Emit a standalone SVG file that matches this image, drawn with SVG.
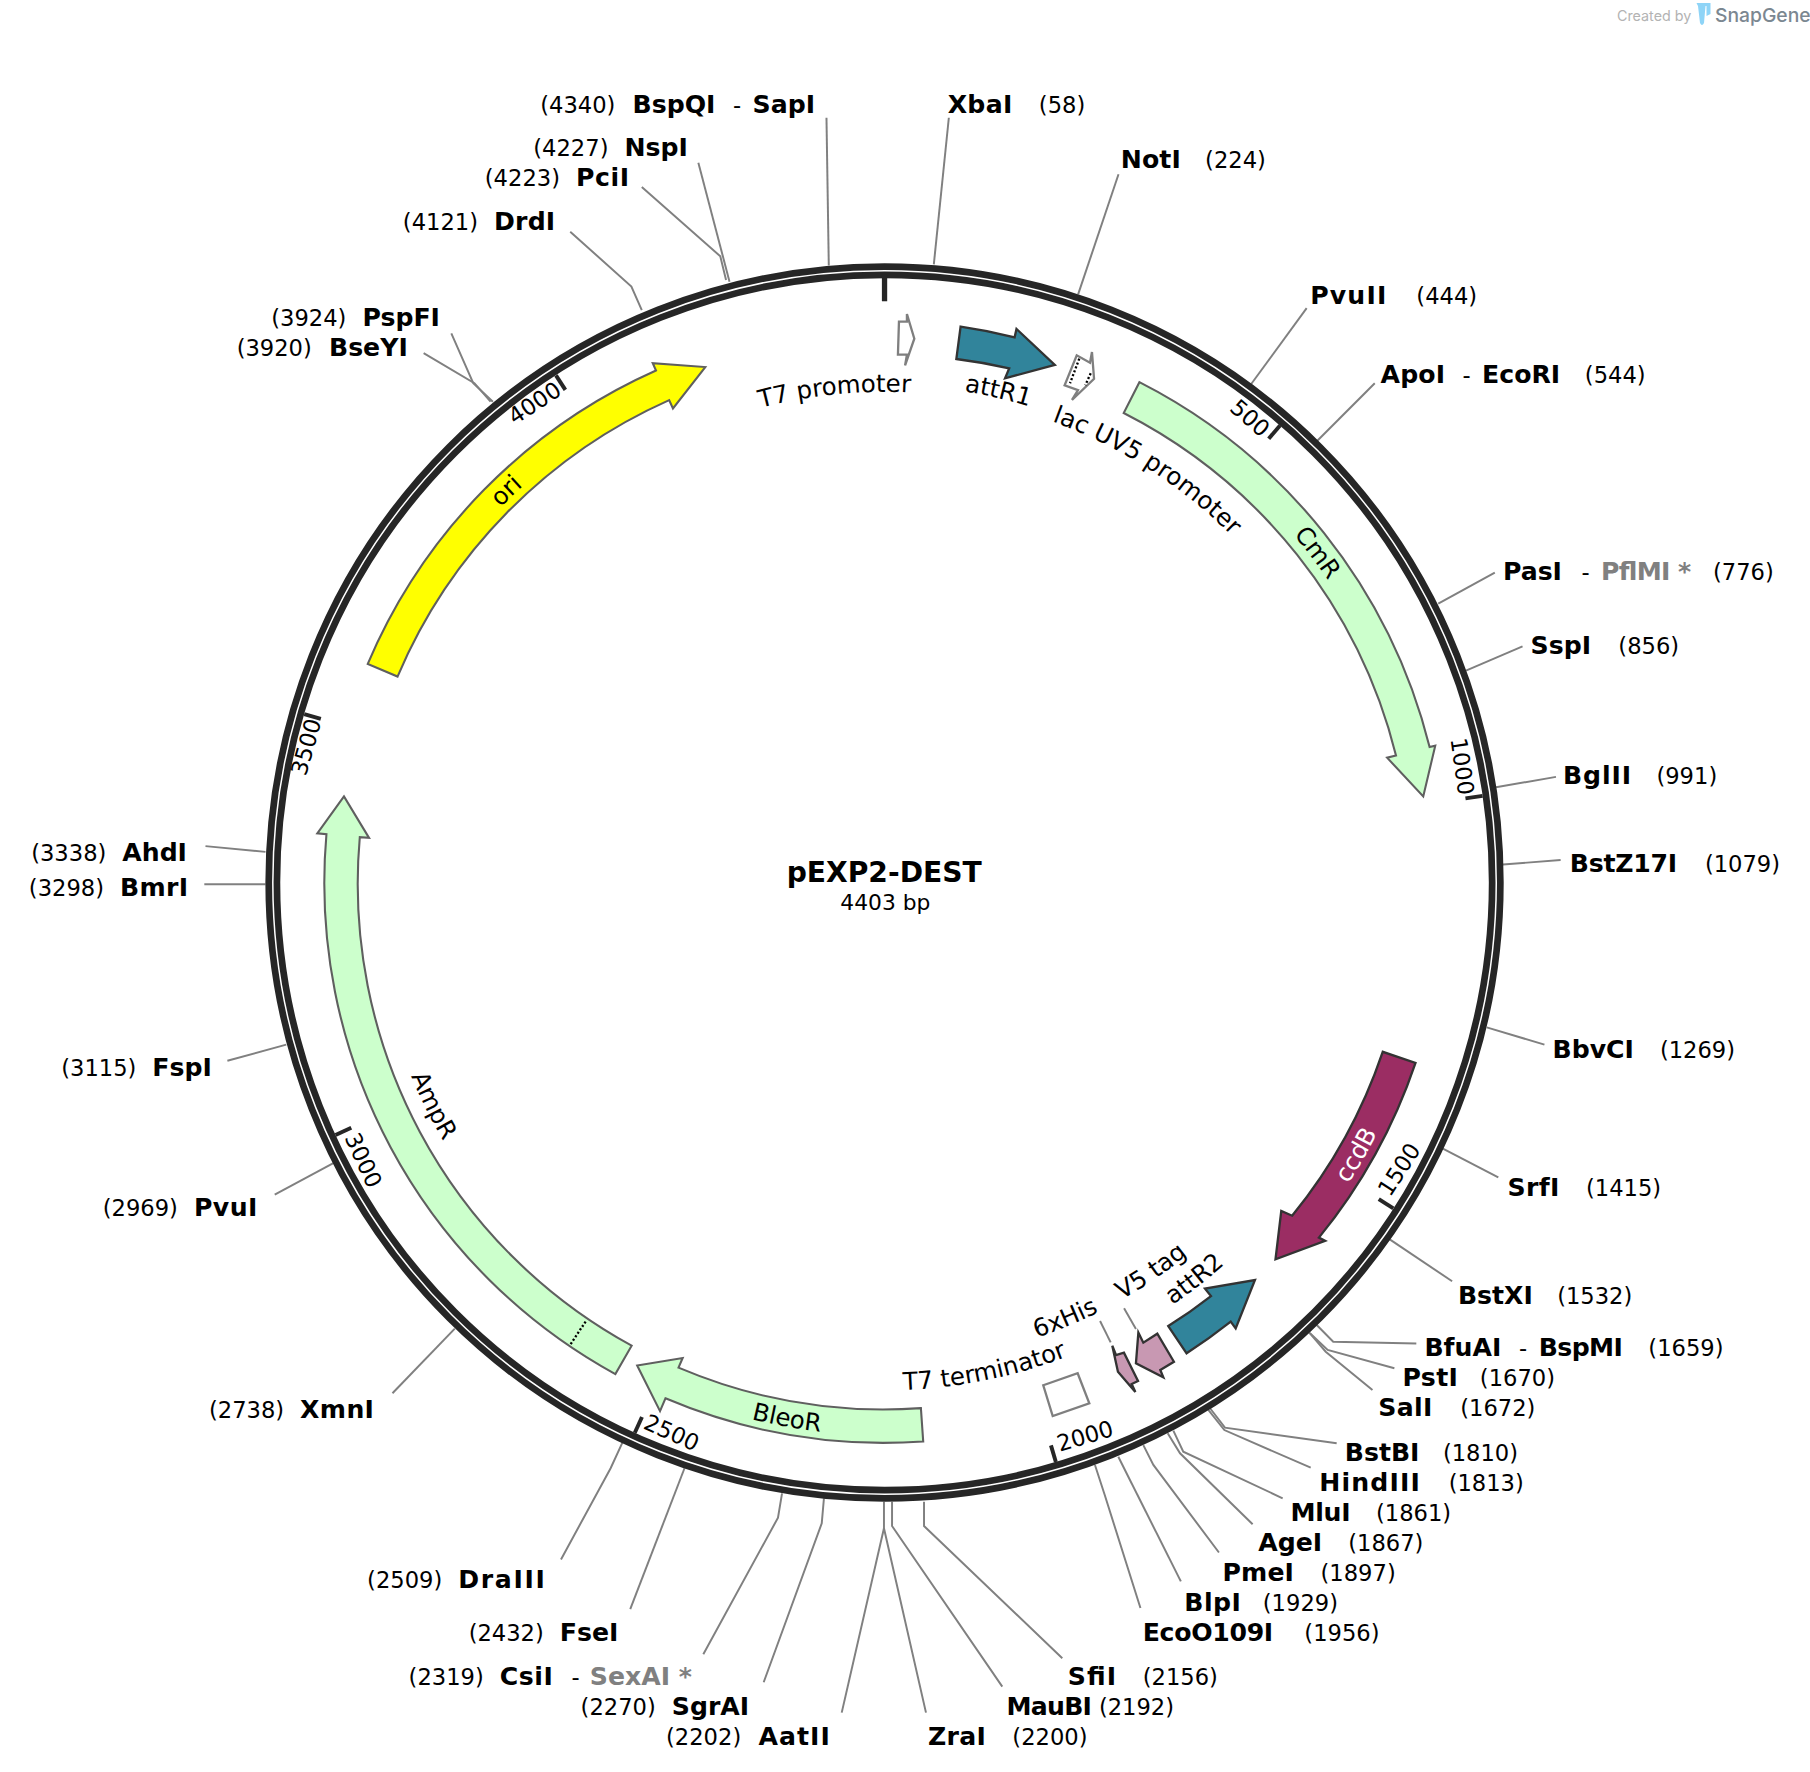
<svg xmlns="http://www.w3.org/2000/svg" width="1810" height="1772" viewBox="0 0 1810 1772">
<style>
text{font-family:"DejaVu Sans","Liberation Sans",sans-serif;fill:#000}
.b{font-weight:700;font-size:21.8px}
.n{font-size:19.6px}
.g{fill:#808080}
.f{font-size:21.2px}
.w{fill:#fff}
.ring{fill:none;stroke:#262626;stroke-width:5.8}
.tick{stroke:#262626;stroke-width:3.4}
.lead{fill:none;stroke:#808080;stroke-width:1.7}
.ft{stroke:#5f5f5f;stroke-width:1.8;stroke-linejoin:miter}
.dark{stroke:#333;stroke-width:2}
.open{fill:#fff;stroke:#7f7f7f;stroke-width:2}
.dot{fill:none;stroke:#000;stroke-width:2;stroke-dasharray:1.8 1.8}
</style>
<defs>
<path id="t425" d="M341.3,764.5A425,425 0 0 1 1191.3,764.5"/>
<path id="t431" d="M335.3,764.5A431,431 0 0 1 1197.3,764.5"/>
<path id="t465" d="M301.3,764.5A465,465 0 0 1 1231.3,764.5"/>
<path id="b416" d="M350.3,764.5A416,416 0 0 0 1182.3,764.5"/>
<path id="b440" d="M326.3,764.5A440,440 0 0 0 1206.3,764.5"/>
<path id="b443" d="M323.3,764.5A443,443 0 0 0 1209.3,764.5"/>
<path id="b479" d="M287.3,764.5A479,479 0 0 0 1245.3,764.5"/>
</defs>
<g id="logo">
<text x="1617" y="20.500" style="font-family:Inter,Roboto,sans-serif;font-size:14.300px;fill:#b3b3b3">Created by</text>
<path d="M1696.500,3H1710.500V14L1706.500,16V6H1705.500L1704,23Q1702,27 1700,23L1698,6Z" fill="#8ed4f7"/>
<text x="1715" y="22" style="font-family:Inter,Roboto,sans-serif;font-size:19.300px;font-weight:500;fill:#7b8791">SnapGene</text>
</g>
<g transform="scale(1.1543)">
<g id="connectors">
<path class="lead" d="M716,102L718,230"/>
<path class="lead" d="M822,102L809,229"/>
<path class="lead" d="M969,151L934,255"/>
<path class="lead" d="M1132,267L1083,334"/>
<path class="lead" d="M1191,332L1141,382"/>
<path class="lead" d="M1295,496L1246,523"/>
<path class="lead" d="M1319,560L1270,581"/>
<path class="lead" d="M1348,673L1296,682"/>
<path class="lead" d="M1352,745L1302,749"/>
<path class="lead" d="M1338,905L1288,890"/>
<path class="lead" d="M1298,1020L1250,995"/>
<path class="lead" d="M1258,1110L1203,1073"/>
<path class="lead" d="M1227,1164L1155,1162.400L1140.700,1147.900"/>
<path class="lead" d="M1208,1185.400L1150.200,1169.500L1134.900,1155"/>
<path class="lead" d="M1189,1204.200L1148.500,1171L1134.300,1154.500"/>
<path class="lead" d="M1158,1250.400L1061.200,1236.800L1048.300,1220"/>
<path class="lead" d="M1135.500,1271.500L1060.700,1238.900L1046.800,1221.500"/>
<path class="lead" d="M1111.200,1298L1025.100,1257.600L1016.500,1239.400"/>
<path class="lead" d="M1085.200,1320.500L1022.300,1259L1011.600,1241.700"/>
<path class="lead" d="M1056,1345L999.200,1269.100L990.500,1251.900"/>
<path class="lead" d="M1023,1370L968.800,1262"/>
<path class="lead" d="M988,1393L957,1295L948.600,1269.200"/>
<path class="lead" d="M920.300,1436.600L800.500,1322V1301"/>
<path class="lead" d="M868.300,1461.200L772.800,1322V1301"/>
<path class="lead" d="M802.200,1483.700L765.800,1324V1301"/>
<path class="lead" d="M729.200,1483.700L765.800,1324"/>
<path class="lead" d="M661.600,1457.400L711.900,1319.700L713.800,1298"/>
<path class="lead" d="M609.300,1433.200L674,1314.800L677.500,1293.700"/>
<path class="lead" d="M546,1394L593,1272"/>
<path class="lead" d="M486,1351L529,1272L540,1248"/>
<path class="lead" d="M340,1207L394,1151"/>
<path class="lead" d="M238,1035L290,1007"/>
<path class="lead" d="M197,919L248,905"/>
<path class="lead" d="M177,766L230,766"/>
<path class="lead" d="M178,733L230,738"/>
<path class="lead" d="M367,306L411,332L425,348"/>
<path class="lead" d="M391,288.800L410,332L427,348"/>
<path class="lead" d="M494,200.700L547,248.300L556,268.600"/>
<path class="lead" d="M556,162L624,222L629,242.600"/>
<path class="lead" d="M605,141L632,244"/>
<path class="lead" d="M953,1144.400L962.200,1162.900"/>
<path class="lead" d="M973.800,1133.400L984.100,1151.300"/>
</g>
<g id="backbone">
<circle class="ring" cx="766.300" cy="764.500" r="533.500"/>
<circle class="ring" cx="766.300" cy="764.500" r="526.400"/>
<line x1="766.300" y1="238" x2="766.300" y2="261" stroke="#262626" stroke-width="4.600"/>
<g id="ticks">
<line class="tick" x1="766.300" y1="241" x2="766.300" y2="256" transform="rotate(40.88 766.300 764.500)"/>
<line class="tick" x1="766.300" y1="241" x2="766.300" y2="256" transform="rotate(81.76 766.300 764.500)"/>
<line class="tick" x1="766.300" y1="241" x2="766.300" y2="256" transform="rotate(122.65 766.300 764.500)"/>
<line class="tick" x1="766.300" y1="241" x2="766.300" y2="256" transform="rotate(163.53 766.300 764.500)"/>
<line class="tick" x1="766.300" y1="241" x2="766.300" y2="256" transform="rotate(204.41 766.300 764.500)"/>
<line class="tick" x1="766.300" y1="241" x2="766.300" y2="256" transform="rotate(245.3 766.300 764.500)"/>
<line class="tick" x1="766.300" y1="241" x2="766.300" y2="256" transform="rotate(286.18 766.300 764.500)"/>
<line class="tick" x1="766.300" y1="241" x2="766.300" y2="256" transform="rotate(327.06 766.300 764.500)"/>
</g>
<g id="tick-labels" text-anchor="middle">
<text class="n" x="1083" y="369" transform="rotate(41 1083 362)">500</text>
<text class="n" x="1267" y="671" transform="rotate(82 1267 664)">1000</text>
<text class="n" x="1212" y="1020" transform="rotate(-57 1212 1013)">1500</text>
<text class="n" x="940" y="1251" transform="rotate(-16.500 940 1244)">2000</text>
<text class="n" x="582" y="1248" transform="rotate(24.400 582 1241)">2500</text>
<text class="n" x="315" y="1012" transform="rotate(65 315 1005)">3000</text>
<text class="n" x="265" y="654" transform="rotate(-74 265 647)">3500</text>
<text class="n" x="463" y="356" transform="rotate(-33 463 349)">4000</text>
</g>
</g>
<g id="CmR">
<path class="ft" fill="#ccffcc" d="M987.100,331.100A487,487 0 0 1 1238.500,647.200L1243.400,646L1233,690L1201.700,656.400L1209.400,654.500A457,457 0 0 0 973.500,357.800Z"/>
<text class="f" text-anchor="middle" transform="rotate(52.7 766.300 764.500)"><textPath href="#t465" startOffset="50%">CmR</textPath></text>
</g>
<g id="ori">
<path class="ft" fill="#ffff00" d="M318.600,575.100A486,486 0 0 1 568.300,321L565.500,314.600L611,318L583,353.900L579.700,346.600A458,458 0 0 0 344.400,586.100Z"/>
<text class="f" text-anchor="middle" transform="rotate(-44 766.300 764.500)"><textPath href="#t465" startOffset="50%">ori</textPath></text>
</g>
<g id="AmpR">
<path class="ft" fill="#ccffcc" d="M533.100,1190.400A485,485 0 0 1 282.800,722.700L274.900,722L298,690L319.700,725.900L311.700,725.200A456,456 0 0 0 547.200,1165.800Z"/>
<path class="dot" d="M494.400,1164.400L508.200,1143.600"/>
<text class="f" text-anchor="middle" transform="rotate(63.700 766.300 764.500)"><textPath href="#b443" startOffset="50%">AmpR</textPath></text>
</g>
<g id="BleoR">
<path class="ft" fill="#ccffcc" d="M797.800,1219.900A456,456 0 0 1 587.800,1184.800L591.400,1176.500L552,1183L571.800,1222.500L576.500,1211.400A485,485 0 0 0 799.800,1248.800Z"/>
<text class="f" text-anchor="middle" transform="rotate(10.300 766.300 764.500)"><textPath href="#b479" startOffset="50%">BleoR</textPath></text>
</g>
<g id="ccdB">
<path class="dark" fill="#9b2d63" d="M1226.300,920.800A486,486 0 0 1 1142.600,1072.200L1148,1075L1105,1091L1110,1049L1119.400,1053.200A456,456 0 0 0 1197.900,911.200Z"/>
<text class="f w" text-anchor="middle" transform="rotate(-60 766.300 764.500)"><textPath href="#b479" startOffset="50%">ccdB</textPath></text>
</g>
<g id="attR1">
<path class="dark" fill="#31849b" d="M832.200,283A485,485 0 0 1 879,292.200L880.600,285L913.800,316.200L870.700,327.700L874.300,319.100A457,457 0 0 0 828.500,311Z"/>
<text class="f" text-anchor="middle" transform="rotate(13.050 766.300 764.500)"><textPath href="#t431" startOffset="50%">attR1</textPath></text>
</g>
<g id="attR2">
<path class="dark" fill="#31849b" d="M1012.100,1148.800L1028,1172.400A485,485 0 0 0 1066.200,1145L1070.500,1150.800L1087.200,1108.900L1043.900,1116.400L1049.100,1122.800A456,456 0 0 1 1012.100,1148.800Z"/>
<text class="f" text-anchor="middle" transform="rotate(-38 766.300 764.500)"><textPath href="#b443" startOffset="50%">attR2</textPath></text>
</g>
<g id="V5-tag">
<path class="dark" fill="#c898b2" d="M984.100,1181.100L986.200,1154.500L990.500,1163.200L1002.600,1155.400L1017,1179.700L1005.200,1186.800L1007.800,1193.200Z"/>
<text class="f" text-anchor="middle" transform="rotate(-34.400 766.300 764.500)"><textPath href="#b416" startOffset="50%">V5 tag</textPath></text>
</g>
<g id="his6">
<path class="dark" fill="#c898b2" d="M963.600,1165.800L966.800,1173.900L973.700,1171.900L985.900,1196.400L980.400,1199L983.600,1206L968.500,1188.300Z"/>
<text class="f" text-anchor="middle" transform="rotate(-22.500 766.300 764.500)"><textPath href="#b416" startOffset="50%">6xHis</textPath></text>
</g>
<g id="T7-terminator">
<path class="open" d="M903.800,1200.100L933.600,1189.700L943.700,1215.700L912,1226.700Z"/>
<text class="f" text-anchor="middle" transform="rotate(-11.600 766.300 764.500)"><textPath href="#b440" startOffset="50%">T7 terminator</textPath></text>
</g>
<g id="T7-promoter">
<path class="open" d="M785.700,272L792.100,293.400L784.100,316.500L785.700,307.200H777.900L778.800,278.700H785.700Z"/>
<text class="f" text-anchor="middle" transform="rotate(-5.800 766.300 764.500)"><textPath href="#t425" startOffset="50%">T7 promoter</textPath></text>
</g>
<g id="lac-UV5-promoter">
<path class="open" d="M946,305L947.800,328.100L928.700,346.500L933.900,337.900L922.300,333.800L932.800,307.800L944.300,314.200Z"/>
<path class="dot" d="M935,310.700L927,332M944.900,323.400L940.200,333.800"/>
<text class="f" text-anchor="middle" transform="rotate(32.500 766.300 764.500)"><textPath href="#t425" startOffset="50%">lac UV5 promoter</textPath></text>
</g>
<g id="title" text-anchor="middle">
<text x="766" y="764" style="font-weight:700;font-size:24.400px">pEXP2-DEST</text>
<text x="767" y="788" style="font-size:18.900px">4403 bp</text>
</g>
<g id="enzymes">
<g id="e-BspQI-SapI"><text y="97.500"><tspan class="n" x="468">(4340)</tspan><tspan class="b" x="548">BspQI</tspan><tspan class="n" x="635">-</tspan><tspan class="b" x="652">SapI</tspan></text></g>
<g id="e-XbaI"><text y="97.500"><tspan class="b" x="821" textLength="56">XbaI</tspan><tspan class="n" x="900">(58)</tspan></text></g>
<g id="e-NotI"><text y="145.500"><tspan class="b" x="971" textLength="52">NotI</tspan><tspan class="n" x="1044">(224)</tspan></text></g>
<g id="e-PvuII"><text y="263.500"><tspan class="b" x="1135" textLength="66">PvuII</tspan><tspan class="n" x="1227">(444)</tspan></text></g>
<g id="e-ApoI-EcoRI"><text y="331.500"><tspan class="b" x="1196" textLength="56">ApoI</tspan><tspan class="n" x="1267">-</tspan><tspan class="b" x="1284">EcoRI</tspan><tspan class="n" x="1373">(544)</tspan></text></g>
<g id="e-PasI-PflMI"><text y="502.500"><tspan class="b" x="1302">PasI</tspan><tspan class="n" x="1370">-</tspan><tspan class="b g" x="1387" textLength="78">PflMI *</tspan><tspan class="n" x="1484">(776)</tspan></text></g>
<g id="e-SspI"><text y="566.500"><tspan class="b" x="1326">SspI</tspan><tspan class="n" x="1402">(856)</tspan></text></g>
<g id="e-BglII"><text y="679.500"><tspan class="b" x="1354" textLength="59">BglII</tspan><tspan class="n" x="1435">(991)</tspan></text></g>
<g id="e-BstZ17I"><text y="755.500"><tspan class="b" x="1360" textLength="93">BstZ17I</tspan><tspan class="n" x="1477">(1079)</tspan></text></g>
<g id="e-BbvCI"><text y="916.500"><tspan class="b" x="1345">BbvCI</tspan><tspan class="n" x="1438">(1269)</tspan></text></g>
<g id="e-SrfI"><text y="1036.500"><tspan class="b" x="1306" textLength="45">SrfI</tspan><tspan class="n" x="1374">(1415)</tspan></text></g>
<g id="e-BstXI"><text y="1129.500"><tspan class="b" x="1263">BstXI</tspan><tspan class="n" x="1349">(1532)</tspan></text></g>
<g id="e-BfuAI-BspMI"><text y="1174.500"><tspan class="b" x="1234">BfuAI</tspan><tspan class="n" x="1316">-</tspan><tspan class="b" x="1333" textLength="73">BspMI</tspan><tspan class="n" x="1428">(1659)</tspan></text></g>
<g id="e-PstI"><text y="1200.500"><tspan class="b" x="1215" textLength="48">PstI</tspan><tspan class="n" x="1282">(1670)</tspan></text></g>
<g id="e-SalI"><text y="1226.500"><tspan class="b" x="1194" textLength="47">SalI</tspan><tspan class="n" x="1265">(1672)</tspan></text></g>
<g id="e-BstBI"><text y="1265.500"><tspan class="b" x="1165">BstBI</tspan><tspan class="n" x="1250">(1810)</tspan></text></g>
<g id="e-HindIII"><text y="1291.500"><tspan class="b" x="1143" textLength="87">HindIII</tspan><tspan class="n" x="1255">(1813)</tspan></text></g>
<g id="e-MluI"><text y="1317.500"><tspan class="b" x="1118" textLength="52">MluI</tspan><tspan class="n" x="1192">(1861)</tspan></text></g>
<g id="e-AgeI"><text y="1343.500"><tspan class="b" x="1090">AgeI</tspan><tspan class="n" x="1168">(1867)</tspan></text></g>
<g id="e-PmeI"><text y="1369.500"><tspan class="b" x="1059" textLength="62">PmeI</tspan><tspan class="n" x="1144">(1897)</tspan></text></g>
<g id="e-BlpI"><text y="1395.500"><tspan class="b" x="1026" textLength="49">BlpI</tspan><tspan class="n" x="1094">(1929)</tspan></text></g>
<g id="e-EcoO109I"><text y="1421.500"><tspan class="b" x="990" textLength="113">EcoO109I</tspan><tspan class="n" x="1130">(1956)</tspan></text></g>
<g id="e-SfiI"><text y="1459.500"><tspan class="b" x="925" textLength="42">SfiI</tspan><tspan class="n" x="990">(2156)</tspan></text></g>
<g id="e-MauBI"><text y="1485.500"><tspan class="b" x="872" textLength="74">MauBI</tspan><tspan class="n" x="952">(2192)</tspan></text></g>
<g id="e-ZraI"><text y="1511.500"><tspan class="b" x="804" textLength="50">ZraI</tspan><tspan class="n" x="877">(2200)</tspan></text></g>
<g id="e-AatII"><text y="1511.500"><tspan class="n" x="577">(2202)</tspan><tspan class="b" x="657" textLength="62">AatII</tspan></text></g>
<g id="e-SgrAI"><text y="1485.500"><tspan class="n" x="503">(2270)</tspan><tspan class="b" x="582">SgrAI</tspan></text></g>
<g id="e-CsiI-SexAI"><text y="1459.500"><tspan class="n" x="354">(2319)</tspan><tspan class="b" x="433" textLength="46">CsiI</tspan><tspan class="n" x="495">-</tspan><tspan class="b g" x="511">SexAI *</tspan></text></g>
<g id="e-FseI"><text y="1421.500"><tspan class="n" x="406">(2432)</tspan><tspan class="b" x="485">FseI</tspan></text></g>
<g id="e-DraIII"><text y="1375.500"><tspan class="n" x="318">(2509)</tspan><tspan class="b" x="397" textLength="75">DraIII</tspan></text></g>
<g id="e-XmnI"><text y="1228.500"><tspan class="n" x="181">(2738)</tspan><tspan class="b" x="260" textLength="64">XmnI</tspan></text></g>
<g id="e-PvuI"><text y="1053.500"><tspan class="n" x="89">(2969)</tspan><tspan class="b" x="168" textLength="55">PvuI</tspan></text></g>
<g id="e-FspI"><text y="932.500"><tspan class="n" x="53">(3115)</tspan><tspan class="b" x="132">FspI</tspan></text></g>
<g id="e-BmrI"><text y="776.500"><tspan class="n" x="25">(3298)</tspan><tspan class="b" x="104" textLength="59">BmrI</tspan></text></g>
<g id="e-AhdI"><text y="745.500"><tspan class="n" x="27">(3338)</tspan><tspan class="b" x="106" textLength="56">AhdI</tspan></text></g>
<g id="e-BseYI"><text y="308.500"><tspan class="n" x="205">(3920)</tspan><tspan class="b" x="285">BseYI</tspan></text></g>
<g id="e-PspFI"><text y="282.500"><tspan class="n" x="235">(3924)</tspan><tspan class="b" x="314">PspFI</tspan></text></g>
<g id="e-DrdI"><text y="199.500"><tspan class="n" x="349">(4121)</tspan><tspan class="b" x="428" textLength="53">DrdI</tspan></text></g>
<g id="e-PciI"><text y="161.500"><tspan class="n" x="420">(4223)</tspan><tspan class="b" x="499" textLength="46">PciI</tspan></text></g>
<g id="e-NspI"><text y="135.500"><tspan class="n" x="462">(4227)</tspan><tspan class="b" x="541">NspI</tspan></text></g>
</g>
</g>
</svg>
